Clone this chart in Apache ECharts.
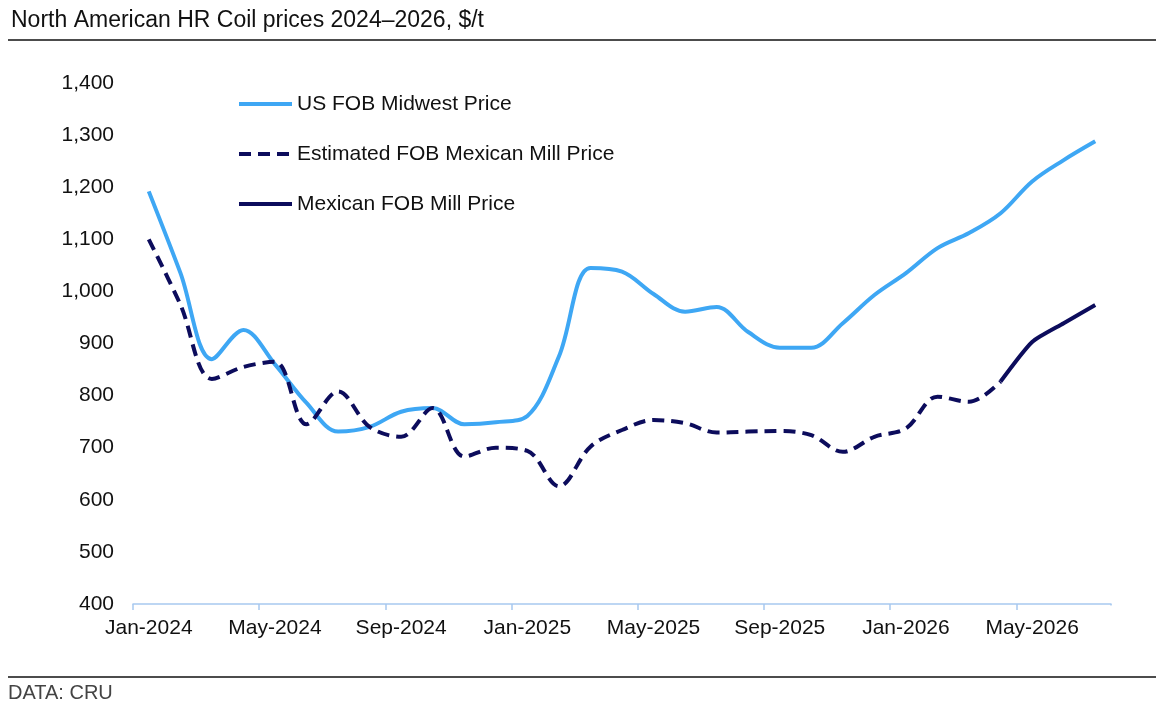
<!DOCTYPE html>
<html lang="en">
<head>
  <meta charset="UTF-8">
  <title>North American HR Coil prices</title>
  <script src="https://cdn.jsdelivr.net/npm/echarts@6/dist/echarts.min.js"></script>
  <style>
    html, body { margin: 0; padding: 0; background: #fff; }
  </style>
</head>
<body>
  <div id="main" style="width: 1164px; height: 714px;"></div>

  <script type="text/javascript">
    // Monthly categories, Jan-2024 .. Jul-2026
    const monthNames = ['Jan', 'Feb', 'Mar', 'Apr', 'May', 'Jun', 'Jul', 'Aug', 'Sep', 'Oct', 'Nov', 'Dec'];
    const months = [];
    for (let y = 2024; y <= 2026; y++) {
      for (let m = 0; m < 12; m++) {
        if (y === 2026 && m > 6) break;
        months.push(monthNames[m] + '-' + y);
      }
    }

    // US FOB Midwest price, $/t
    const usMidwest = [
      1192, 1036, 870, 926, 860, 786, 731, 740, 769, 776, 745, 749,
      761, 875, 1045, 1038, 995, 961, 970, 922, 892, 892, 939, 993,
      1035, 1083, 1112, 1150, 1211, 1252, 1288
    ];

    // Estimated FOB Mexican mill price (up to Apr-2026)
    const mexEstimated = [
      1100, 975, 832, 855, 865, 745, 808, 740, 721, 776, 683, 700,
      694, 626, 702, 734, 753, 747, 729, 731, 732, 724, 692, 721,
      737, 798, 788, 827, null, null, null
    ];

    // Mexican FOB mill price (from Apr-2026)
    const mexActual = [
      null, null, null, null, null, null, null, null, null, null, null, null,
      null, null, null, null, null, null, null, null, null, null, null, null,
      null, null, null, 827, 903, 939, 974
    ];

    const blue = '#3ea7f4';
    const navy = '#0c0c5c';
    const font = '"Liberation Sans", Arial, sans-serif';

    let myChart = echarts.init(document.getElementById('main'));

    let options = {
      animation: false,
      title: {
        text: 'North American HR Coil prices 2024\u20132026, $/t',
        left: 6,
        top: 4,
        textStyle: { fontFamily: font, fontSize: 23, fontWeight: 'normal', color: '#111' }
      },
      graphic: [
        { type: 'line', shape: { x1: 8, y1: 40, x2: 1156, y2: 40 }, style: { stroke: '#111', lineWidth: 1.5 } },
        { type: 'line', shape: { x1: 8, y1: 677, x2: 1156, y2: 677 }, style: { stroke: '#111', lineWidth: 1.5 } },
        // the reference has no closing tick at the right end of the x axis
        { type: 'rect', z: 100, shape: { x: 1106, y: 605.5, width: 10, height: 8 }, style: { fill: '#fff' } },
        {
          type: 'text', left: 8, top: 683,
          style: { text: 'DATA: CRU', fontFamily: font, fontSize: 20, fill: '#444' }
        }
      ],
      legend: {
        orient: 'vertical',
        left: 237,
        top: 92,
        padding: 0,
        itemWidth: 53,
        itemHeight: 14,
        itemGap: 26,
        itemStyle: { opacity: 0 },
        lineStyle: { width: 4 },
        textStyle: { fontFamily: font, fontSize: 21, color: '#111', lineHeight: 24 },
        data: ['US FOB Midwest Price', 'Estimated FOB Mexican Mill Price', 'Mexican FOB Mill Price']
      },
      grid: { left: 133, right: 53, top: 83, bottom: 110 },
      xAxis: {
        type: 'category',
        data: months,
        boundaryGap: true,
        axisLine: { lineStyle: { color: '#a8c9f0', width: 1.5 } },
        axisTick: { show: true, interval: 3, length: 6, lineStyle: { color: '#a8c9f0', width: 1.5 } },
        axisLabel: { interval: 3, margin: 14, fontFamily: font, fontSize: 21, color: '#111' }
      },
      yAxis: {
        type: 'value',
        min: 400,
        max: 1400,
        interval: 100,
        splitLine: { show: false },
        axisLine: { show: false },
        axisTick: { show: false },
        axisLabel: {
          margin: 19,
          fontFamily: font,
          fontSize: 21,
          color: '#111',
          formatter: (v) => v.toLocaleString('en-US')
        }
      },
      series: [
        {
          name: 'US FOB Midwest Price',
          type: 'line',
          data: usMidwest,
          smooth: 0.35,
          symbol: 'none',
          lineStyle: { color: blue, width: 4 },
          itemStyle: { color: blue }
        },
        {
          name: 'Estimated FOB Mexican Mill Price',
          type: 'line',
          data: mexEstimated,
          smooth: 0.35,
          symbol: 'none',
          lineStyle: { color: navy, width: 4, type: [12, 7] },
          itemStyle: { color: navy }
        },
        {
          name: 'Mexican FOB Mill Price',
          type: 'line',
          data: mexActual,
          smooth: 0.2,
          symbol: 'none',
          lineStyle: { color: navy, width: 4 },
          itemStyle: { color: navy }
        }
      ]
    };

    myChart.setOption(options);
  </script>
</body>
</html>
